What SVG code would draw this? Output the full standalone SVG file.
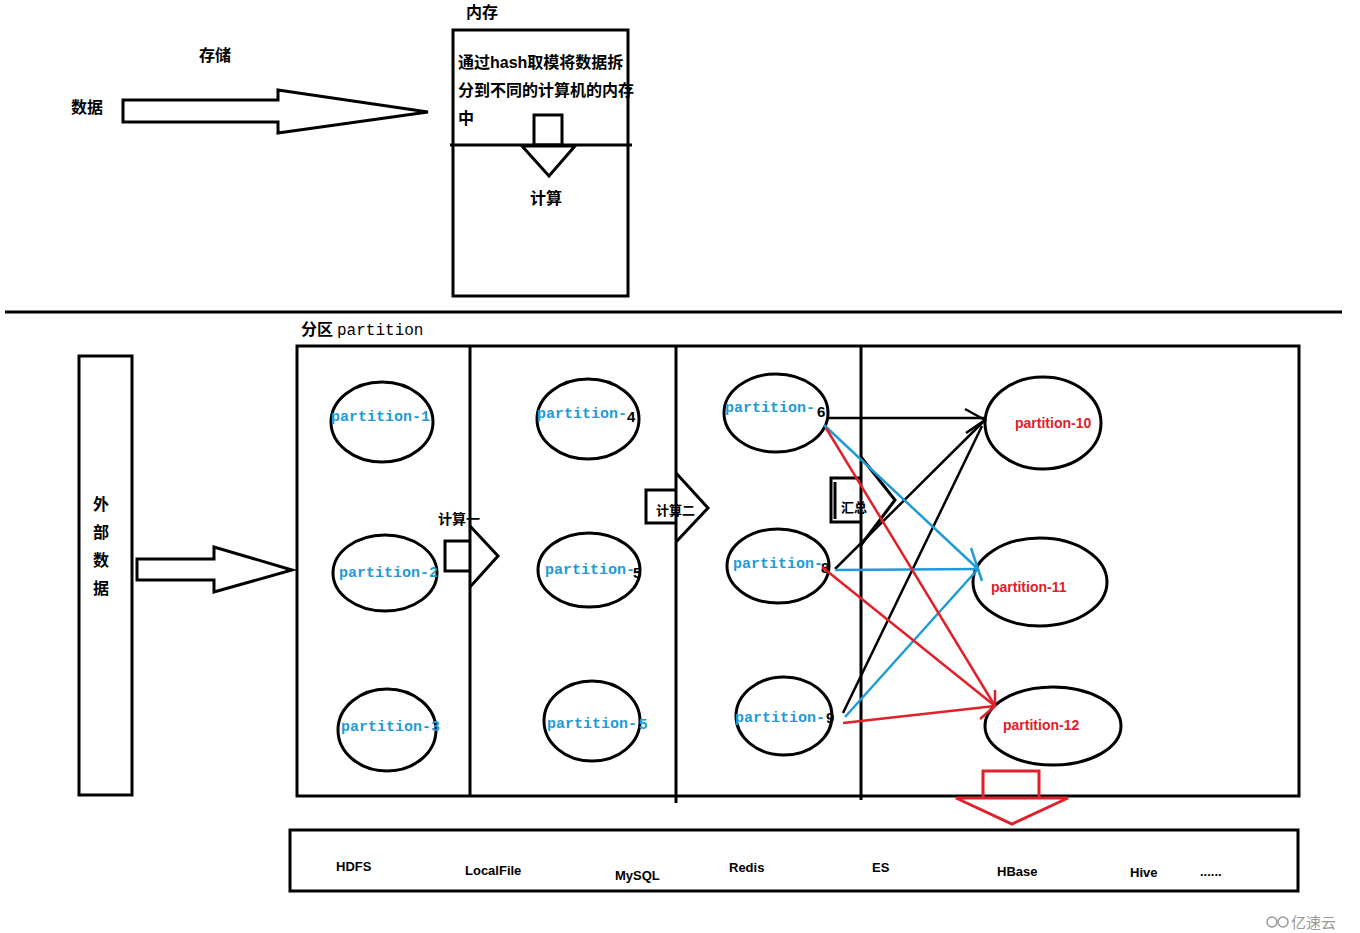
<svg xmlns="http://www.w3.org/2000/svg" width="1360" height="933" viewBox="0 0 1360 933">
<style>
.s{fill:none;stroke:#000;stroke-width:3}
.w{fill:#fff;stroke:#000;stroke-width:3}
.cn{font-family:"Liberation Sans","Noto Sans CJK SC",sans-serif;font-weight:bold;fill:#000}
.pl{font-family:"Liberation Mono","Courier New",monospace;font-weight:bold;font-size:15px;fill:#1e9bd7}
.pn{font-family:"Liberation Sans",sans-serif;font-weight:bold;font-size:15px;fill:#000}
.pr{font-family:"Liberation Sans","Noto Sans",sans-serif;font-weight:bold;font-size:14px;fill:#e0202a}
.st{font-family:"Liberation Sans","Noto Sans CJK SC",sans-serif;font-weight:bold;font-size:13px;fill:#000}
.bk{stroke:#000;stroke-width:2.5;fill:none}
.bl{stroke:#1e9bd7;stroke-width:2.5;fill:none}
.rd{stroke:#e0202a;stroke-width:2.5;fill:none}
</style>
<rect width="1360" height="933" fill="#fff"/>

<g id="top">
<text class="cn" x="199" y="61" font-size="16">存储</text>
<text class="cn" x="71" y="113" font-size="16">数据</text>
<polygon class="s" points="123,100 278,100 278,90 428,112 278,133 278,122 123,122"/>
<text class="cn" x="466" y="18" font-size="16">内存</text>
<rect class="s" x="453" y="30" width="175" height="266"/>
<text class="cn" x="458" y="68" font-size="16">通过hash取模将数据拆</text>
<text class="cn" x="458" y="96" font-size="16">分到不同的计算机的内存</text>
<text class="cn" x="458" y="124" font-size="16">中</text>
<rect class="s" x="534" y="115" width="28" height="30"/>
<line class="s" x1="450" y1="145" x2="632" y2="145"/>
<polygon class="w" points="522,146 575,146 549,176"/>
<text class="cn" x="530" y="204" font-size="16">计算</text>
</g>

<line class="s" x1="5" y1="312" x2="1342" y2="312"/>

<g id="external">
<rect class="s" x="79" y="356" width="53" height="439"/>
<text class="cn" font-size="16" x="93" y="510">外</text>
<text class="cn" font-size="16" x="93" y="538">部</text>
<text class="cn" font-size="16" x="93" y="566">数</text>
<text class="cn" font-size="16" x="93" y="594">据</text>
<polygon class="s" points="137,559 214,559 214,547 292,570 214,592 214,580 137,580"/>
</g>

<g id="partition-area">
<text x="301" y="335"><tspan class="cn" font-size="16">分区</tspan><tspan font-family="Liberation Mono,monospace" font-size="16" dx="4">partition</tspan></text>
<rect class="s" x="297" y="346" width="1002" height="450"/>
<line class="s" x1="470" y1="346" x2="470" y2="796"/>
<line class="s" x1="676" y1="346" x2="676" y2="803"/>
<line class="s" x1="861" y1="346" x2="861" y2="800"/>
</g>

<g id="p1"><ellipse class="s" cx="382" cy="422" rx="51" ry="40"/><text class="pl" x="331" y="421">partition-1</text></g>
<g id="p2"><ellipse class="s" cx="385" cy="573" rx="52" ry="38"/><text class="pl" x="339" y="577">partition-2</text></g>
<g id="p3"><ellipse class="s" cx="387" cy="730" rx="49" ry="41"/><text class="pl" x="341" y="731">partition-3</text></g>

<g id="p4"><ellipse class="s" cx="588" cy="419" rx="51" ry="40"/><text class="pl" x="537" y="418">partition-</text><text class="pn" x="627" y="422">4</text></g>
<g id="p5a"><ellipse class="s" cx="589" cy="570" rx="51" ry="37"/><text class="pl" x="545" y="574">partition-</text><text class="pn" x="633" y="578">5</text></g>
<g id="p5b"><ellipse class="s" cx="592" cy="721" rx="48" ry="40"/><text class="pl" x="547" y="728">partition-</text><text class="pn" x="639" y="729" fill="#1e9bd7" style="fill:#1e9bd7">5</text></g>

<g id="p6"><ellipse class="s" cx="776" cy="413" rx="52" ry="39"/><text class="pl" x="725" y="412">partition-</text><text class="pn" x="817" y="417">6</text></g>
<g id="p8"><ellipse class="s" cx="778" cy="566" rx="51" ry="37"/><text class="pl" x="733" y="568">partition-</text><text class="pn" x="821" y="573">8</text></g>
<g id="p9"><ellipse class="s" cx="784" cy="716" rx="48" ry="39"/><text class="pl" x="735" y="722">partition-</text><text class="pn" x="826" y="723">9</text></g>

<g id="p10"><ellipse class="s" cx="1043" cy="423" rx="58" ry="46"/><text class="pr" x="1015" y="428">partition-10</text></g>
<g id="p11"><ellipse class="s" cx="1040" cy="582" rx="67" ry="44"/><text class="pr" x="991" y="592">partition-11</text></g>
<g id="p12"><ellipse class="s" cx="1053" cy="726" rx="68" ry="39"/><text class="pr" x="1003" y="730">partition-12</text></g>

<g id="calc1">
<text class="cn" x="438" y="524" font-size="14">计算一</text>
<polyline class="s" points="470,541 445,541 445,571 470,571"/>
<polyline class="s" points="470,526 498,556 470,587"/>
</g>
<g id="calc2">
<polyline class="s" points="676,490 646,490 646,523 676,523"/>
<polyline class="s" points="676,473 708,508 676,542"/>
<text class="cn" x="656" y="515" font-size="13">计算二</text>
</g>
<g id="summary">
<polyline class="s" points="861,478 831,478 831,522 861,522"/>
<line class="s" x1="835" y1="482" x2="835" y2="519"/>
<polyline class="s" points="861,457 895,500 861,545"/>
<text class="cn" x="841" y="512" font-size="13">汇总</text>
</g>

<g id="connectors">
<line class="bk" x1="828" y1="418" x2="984" y2="418"/>
<line class="bk" x1="835" y1="569" x2="984" y2="421"/>
<line class="bk" x1="843" y1="713" x2="982" y2="426"/>
<polyline class="bk" points="965,409 985,420 966,433"/>
<line class="bl" x1="824" y1="425" x2="978" y2="569"/>
<line class="bl" x1="835" y1="570" x2="978" y2="569"/>
<line class="bl" x1="845" y1="717" x2="978" y2="569"/>
<line class="bl" x1="971" y1="548" x2="982" y2="581"/>
<line class="rd" x1="826" y1="428" x2="995" y2="706"/>
<line class="rd" x1="822" y1="567" x2="995" y2="706"/>
<line class="rd" x1="843" y1="723" x2="995" y2="706"/>
<polyline class="rd" points="995,690 995,706 980,719"/>
</g>

<g id="out-arrow">
<polyline fill="none" stroke="#e0202a" stroke-width="3" points="983,797 983,771 1039,771 1039,797"/>
<polygon fill="#fff" stroke="#e0202a" stroke-width="3" points="956,798 1068,798 1012,824"/>
</g>

<g id="storage">
<rect class="s" x="290" y="830" width="1008" height="61"/>
<text class="st" x="336" y="871">HDFS</text>
<text class="st" x="465" y="875">LocalFile</text>
<text class="st" x="615" y="880">MySQL</text>
<text class="st" x="729" y="872">Redis</text>
<text class="st" x="872" y="872">ES</text>
<text class="st" x="997" y="876">HBase</text>
<text class="st" x="1130" y="877">Hive</text>
<text class="st" x="1200" y="876">......</text>
</g>

<g id="watermark">
<text x="1291" y="928" font-family="Noto Sans CJK SC,sans-serif" font-size="15" fill="#999">亿速云</text>
<circle cx="1272" cy="922" r="5" fill="none" stroke="#999" stroke-width="1.5"/>
<circle cx="1283" cy="922" r="5" fill="none" stroke="#999" stroke-width="1.5"/>
</g>
</svg>
